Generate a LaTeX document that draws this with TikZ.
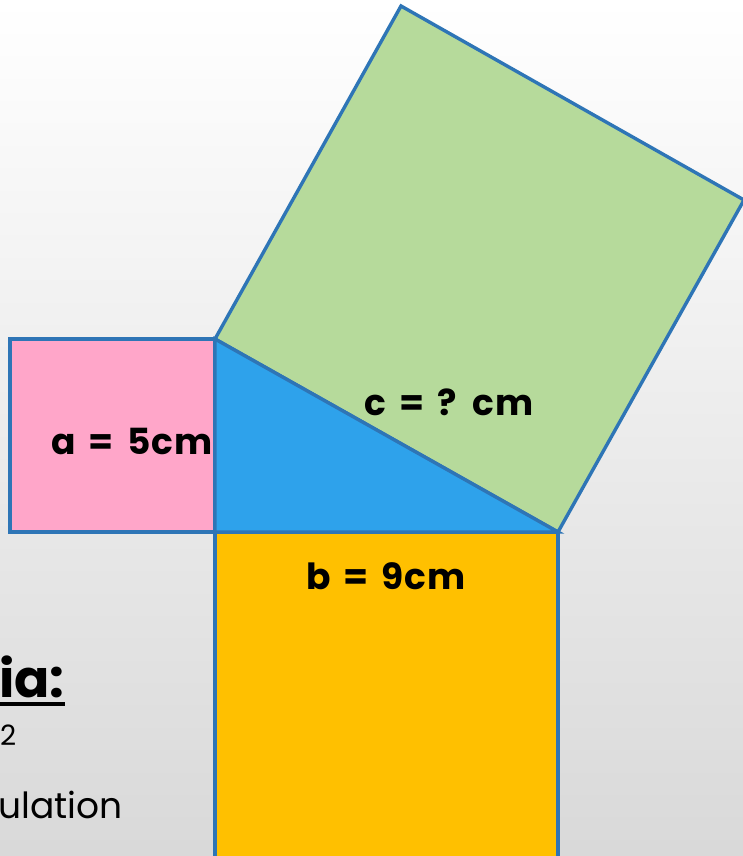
\documentclass[tikz,border=0pt]{standalone}
\usepackage{fontspec}
\setmainfont{Poppins}
\newfontfamily\sidefont[WordSpace=1.5, LetterSpace=3]{Poppins}
\usepackage{xcolor}
\usetikzlibrary{positioning}

\definecolor{edgeblue}{HTML}{2E75B6}
\definecolor{sqpink}{HTML}{FFA6C9}
\definecolor{sqgreen}{HTML}{B6DA9B}
\definecolor{sqyellow}{HTML}{FFC000}
\definecolor{triblue}{HTML}{2EA2EB}

\begin{document}
\begin{tikzpicture}[
    x=1pt, y=-1pt,
    face/.style={
      draw=edgeblue,
      line width=3.4pt,
      line join=miter
    },
    sidelabel/.style={
      font=\sidefont\bfseries\fontsize{36}{40}\selectfont,
      inner sep=0pt
    },
    bodytext/.style={
      font=\fontsize{36}{42}\selectfont,
      inner sep=0pt,
      anchor=base west
    }
  ]

    % Page and backdrop
    \useasboundingbox (0,0) rectangle (743,856);
    \shade[top color=white, bottom color=black!15] (0,0) rectangle (743,856);
    \begin{scope}
    \clip (0,0) rectangle (743,856);

    % Corners of the right triangle
    \coordinate (P) at (215,339);
    \coordinate (A) at (215,532);
    \coordinate (Q) at (558,532);
    \coordinate (R) at (744,200);
    \coordinate (S) at (401,6);

    % Squares on the three sides
    \draw[face, fill=sqgreen] (P) -- (Q) -- (R) -- (S) -- cycle;
    \draw[face, fill=sqpink] (10,339) rectangle (A);
    \draw[face, fill=sqyellow] (A) rectangle (558,890);
    \draw[face, fill=triblue] (P) -- (A) -- (Q) -- cycle;

    % Side labels
    \node[sidelabel] (alabel) at (132,441) {a = 5cm};
    \node[sidelabel] (blabel) at (386,576) {b = 9cm};
    \node[sidelabel] (clabel) at (449,402) {c = ? cm};

    % Text cut off at the left edge
    \node[bodytext, font=\bfseries\fontsize{52}{60}\selectfont] (heading) at (-1,697) {ia:};
    \draw[line width=3.5pt] (heading.base west) ++(0,7) coordinate (ul1)
      (heading.base east) ++(0,7) coordinate (ul2);
    \draw[line width=3.5pt] (ul1) -- (ul2);
    \node[bodytext, font=\fontsize{28}{32}\selectfont] (sqtwo) at (0,745) {2};
    \node[bodytext] (tail) at (-2,818) {ulation};
    \end{scope}

  \end{tikzpicture}
\end{document}
